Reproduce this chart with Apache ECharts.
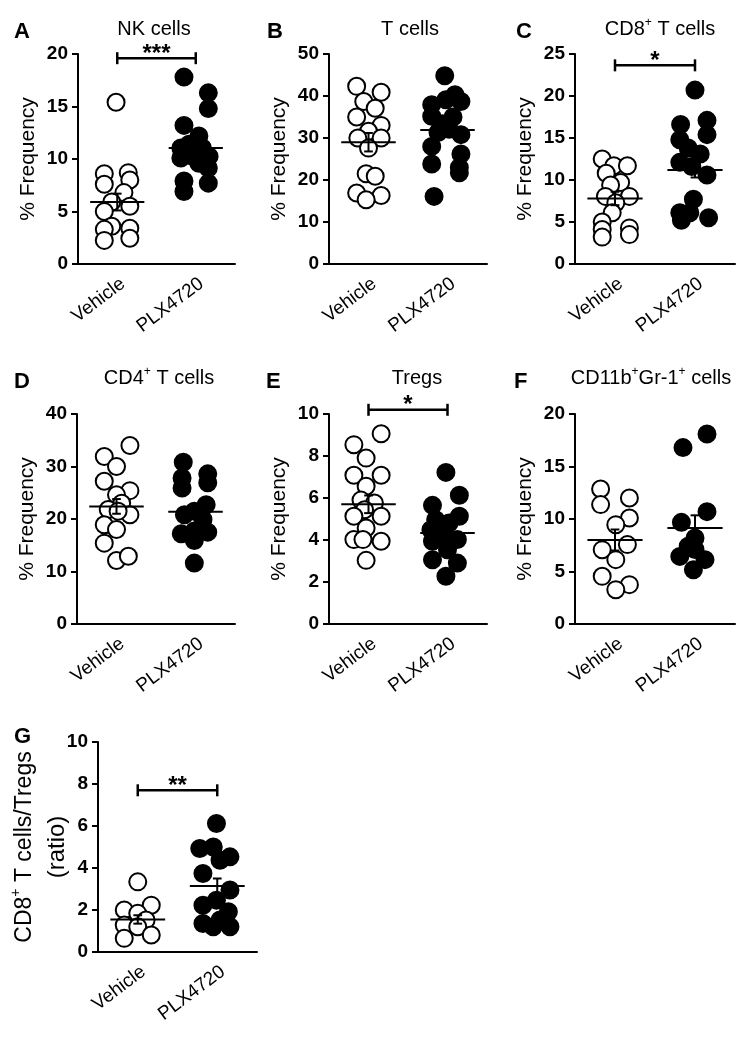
<!DOCTYPE html>
<html><head><meta charset="utf-8">
<script src="https://cdn.jsdelivr.net/npm/echarts@6/dist/echarts.min.js"></script>
<style>html,body{margin:0;padding:0;background:#fff}#c{width:754px;height:1038px}</style>
</head><body><div id="c"></div>
<script>
const categories = ['Vehicle', 'PLX4720'];

// A – NK cells
const aVeh = [15.4, 8.6, 8.7, 8.0, 7.6, 6.8, 5.9, 5.5, 5.0, 3.6, 3.3, 3.4, 2.25, 2.45];
const aVehJit = [-0.03, -0.33, 0.28, 0.32, -0.33, 0.17, -0.14, 0.32, -0.33, -0.14, -0.33, 0.32, -0.33, 0.32];
const aPlx = [17.8, 16.3, 14.8, 13.2, 12.2, 11.4, 11.05, 11.05, 10.1, 10.25, 10.25, 9.15, 9.6, 7.9, 7.7, 6.9];
const aPlxJit = [-0.30, 0.32, 0.32, -0.30, 0.08, -0.17, -0.38, 0.17, -0.38, -0.08, 0.34, 0.32, 0.08, -0.30, 0.32, -0.30];
const aMean = [5.9, 11.05], aSem = [0.8, 0.55];
const aSig = ['***', 19.6];

// B – T cells
const bVeh = [42.3, 40.9, 38.7, 37.1, 35.0, 33.0, 31.6, 30.0, 30.0, 27.6, 21.5, 20.9, 16.9, 16.3, 15.3];
const bVehJit = [-0.30, 0.32, -0.12, 0.17, -0.30, 0.32, 0.0, -0.27, 0.32, 0.0, -0.06, 0.17, -0.30, 0.32, -0.06];
const bPlx = [44.8, 40.3, 39.1, 37.9, 38.7, 35.2, 35.0, 33.4, 32.1, 31.3, 30.8, 28.0, 26.2, 23.8, 23.0, 21.7, 16.1];
const bPlxJit = [-0.07, 0.19, -0.04, -0.40, 0.34, -0.40, 0.14, -0.13, 0.04, -0.24, 0.34, -0.40, 0.34, -0.40, 0.30, 0.30, -0.34];
const bMean = [29.0, 31.9], bSem = [2.2, 1.5];

// C – CD8+ T cells
const cVeh = [12.5, 11.7, 11.7, 10.8, 9.7, 9.4, 8.05, 8.05, 7.3, 6.1, 5.0, 4.1, 4.3, 3.5, 3.2];
const cVehJit = [-0.32, -0.03, 0.31, -0.22, 0.14, -0.11, -0.24, 0.36, 0.02, -0.07, -0.32, -0.32, 0.36, 0.36, -0.32];
const cPlx = [20.7, 16.6, 17.1, 15.4, 14.8, 13.8, 13.1, 12.1, 11.6, 10.6, 7.7, 6.1, 6.1, 5.5, 5.2];
const cPlxJit = [0, -0.36, 0.30, 0.30, -0.38, -0.17, 0.13, -0.38, -0.08, 0.30, -0.04, -0.38, -0.13, 0.34, -0.34];
const cMean = [7.8, 11.2], cSem = [0.8, 0.9];
const cSig = ['*', 23.65];

// D – CD4+ T cells
const dVeh = [34.0, 31.9, 30.0, 27.2, 25.4, 24.6, 23.0, 21.8, 20.8, 21.5, 18.9, 18.0, 15.4, 12.1, 12.9];
const dVehJit = [0.34, -0.31, 0, -0.31, 0.34, 0, 0.13, -0.21, 0.34, 0.04, -0.31, 0, -0.31, 0, 0.30];
const dPlx = [30.8, 27.8, 28.6, 25.9, 26.9, 22.7, 21.5, 20.8, 19.9, 17.2, 17.7, 17.5, 15.9, 11.6];
const dPlxJit = [-0.31, -0.34, 0.31, -0.34, 0.31, 0.27, -0.03, -0.28, 0.19, -0.36, -0.03, 0.31, -0.03, -0.03];
const dMean = [22.4, 21.4], dSem = [1.4, 1.3];

// E – Tregs
const eVeh = [9.06, 8.54, 7.9, 7.08, 7.08, 6.56, 5.9, 5.76, 5.44, 5.13, 5.13, 4.57, 4.02, 4.02, 3.94, 3.03];
const eVehJit = [0.32, -0.37, -0.06, -0.37, 0.32, -0.06, -0.19, 0.15, -0.10, -0.37, 0.32, -0.06, -0.37, -0.14, 0.32, -0.06];
const ePlx = [7.22, 6.13, 5.65, 5.13, 4.97, 4.81, 4.49, 4.25, 4.02, 3.94, 3.54, 3.06, 2.9, 2.27];
const ePlxJit = [-0.04, 0.30, -0.38, 0.30, -0.30, 0.04, -0.42, -0.08, 0.25, -0.38, 0, -0.38, 0.25, -0.04];
const eMean = [5.7, 4.33], eSem = [0.42, 0.3];
const eSig = ['*', 10.2];

// F – CD11b+Gr-1+ cells
const fVeh = [12.86, 11.37, 12.0, 10.1, 9.46, 7.56, 7.08, 6.13, 4.54, 3.75, 3.27];
const fVehJit = [-0.36, -0.36, 0.36, 0.36, 0.02, 0.31, -0.32, 0.02, -0.32, 0.36, 0.02];
const fPlx = [18.1, 16.8, 10.7, 9.68, 8.19, 7.4, 7.1, 6.44, 6.13, 5.17];
const fPlxJit = [0.30, -0.30, 0.30, -0.34, 0, -0.17, 0, -0.38, 0.25, -0.04];
const fMean = [8.0, 9.15], fSem = [1.0, 1.2];

// G – CD8+ T cells / Tregs ratio
const gVeh = [3.34, 2.23, 2.0, 1.84, 1.52, 1.28, 1.2, 0.81, 0.65];
const gVehJit = [0, 0.34, -0.34, 0, 0.21, -0.34, 0, 0.34, -0.34];
const gPlx = [6.12, 4.93, 5.0, 4.53, 4.37, 3.74, 2.95, 2.47, 2.23, 1.92, 1.36, 1.2, 1.2, 1.52];
const gPlxJit = [-0.02, -0.44, -0.10, 0.32, 0.07, -0.36, 0.32, -0.02, -0.36, 0.28, -0.36, -0.10, 0.32, 0.07];
const gMean = [1.55, 3.14], gSem = [0.2, 0.36];
const gSig = ['**', 7.7];

// y-axis ticks: [max, interval]
const aTicks = [20, 5], bTicks = [50, 10], cTicks = [25, 5], dTicks = [40, 10], eTicks = [10, 2], fTicks = [20, 5], gTicks = [10, 2];

const FONT = 'Liberation Sans, Arial, Helvetica, sans-serif';
const sup = {
  t: {fontSize: 20, fontFamily: FONT, color: '#000', lineHeight: 24},
  s: {fontSize: 12, fontFamily: FONT, color: '#000', lineHeight: 12, verticalAlign: 'top'}
};
const supName = {
  t: {fontSize: 21, fontFamily: FONT, color: '#000', lineHeight: 26},
  s: {fontSize: 13, fontFamily: FONT, color: '#000', lineHeight: 13, verticalAlign: 'top'}
};
const supNameG = {
  t: {fontSize: 23, fontFamily: FONT, color: '#000', lineHeight: 32},
  r: {fontSize: 24, fontFamily: FONT, color: '#000', lineHeight: 32},
  s: {fontSize: 14, fontFamily: FONT, color: '#000', lineHeight: 14, verticalAlign: 'top'}
};

const panels = [
  {letter: 'A', title: '{t|NK cells}', veh: aVeh, vj: aVehJit, plx: aPlx, pj: aPlxJit, mean: aMean, sem: aSem, ticks: aTicks, sig: aSig,
   grid: {left: 78, top: 54, width: 157}, lx: 14, ly: 21, tx: 154, ty: 29, yName: '{t|% Frequency}', nameGap: 37, rich: supName},
  {letter: 'B', title: '{t|T cells}', veh: bVeh, vj: bVehJit, plx: bPlx, pj: bPlxJit, mean: bMean, sem: bSem, ticks: bTicks,
   grid: {left: 329, top: 54, width: 158}, lx: 267, ly: 21, tx: 410, ty: 29, yName: '{t|% Frequency}', nameGap: 37, rich: supName},
  {letter: 'C', title: '{t|CD8}{s|+}{t| T cells}', veh: cVeh, vj: cVehJit, plx: cPlx, pj: cPlxJit, mean: cMean, sem: cSem, ticks: cTicks, sig: cSig,
   grid: {left: 575, top: 54, width: 160}, lx: 516, ly: 21, tx: 660, ty: 29, yName: '{t|% Frequency}', nameGap: 37, rich: supName},
  {letter: 'D', title: '{t|CD4}{s|+}{t| T cells}', veh: dVeh, vj: dVehJit, plx: dPlx, pj: dPlxJit, mean: dMean, sem: dSem, ticks: dTicks,
   grid: {left: 77, top: 414, width: 158}, lx: 14, ly: 371, tx: 159, ty: 378, yName: '{t|% Frequency}', nameGap: 37, rich: supName},
  {letter: 'E', title: '{t|Tregs}', veh: eVeh, vj: eVehJit, plx: ePlx, pj: ePlxJit, mean: eMean, sem: eSem, ticks: eTicks, sig: eSig,
   grid: {left: 329, top: 414, width: 158}, lx: 266, ly: 371, tx: 417, ty: 378, yName: '{t|% Frequency}', nameGap: 37, rich: supName},
  {letter: 'F', title: '{t|CD11b}{s|+}{t|Gr-1}{s|+}{t| cells}', veh: fVeh, vj: fVehJit, plx: fPlx, pj: fPlxJit, mean: fMean, sem: fSem, ticks: fTicks,
   grid: {left: 575, top: 414, width: 160}, lx: 514, ly: 371, tx: 651, ty: 378, yName: '{t|% Frequency}', nameGap: 37, rich: supName},
  {letter: 'G', title: '', veh: gVeh, vj: gVehJit, plx: gPlx, pj: gPlxJit, mean: gMean, sem: gSem, ticks: gTicks, sig: gSig,
   grid: {left: 98, top: 742, width: 159}, lx: 14, ly: 726, tx: 0, ty: 0,
   yName: '{t|CD8}{s|+}{t| T cells/Tregs}\n{r|(ratio)}', nameGap: 25, rich: supNameG}
];

const axisLineStyle = {color: '#000', width: 2};
const grids = [], xAxes = [], yAxes = [], series = [], graphics = [];

function statsRender(params, api) {
  const x = api.value(0), m = api.value(1), s = api.value(2);
  const hw = 0.69, cw = 0.11;
  const st = {stroke: '#000', lineWidth: 2};
  const L = (a, b) => ({type: 'line', shape: {x1: a[0], y1: a[1], x2: b[0], y2: b[1]}, style: st});
  const p = (a, b) => api.coord([a, b]);
  return {type: 'group', children: [
    L(p(x - hw, m), p(x + hw, m)),
    L(p(x, m - s), p(x, m + s)),
    L(p(x - cw, m + s), p(x + cw, m + s)),
    L(p(x - cw, m - s), p(x + cw, m - s))
  ]};
}

function makeSigRender(label) {
  return function (params, api) {
    const y = api.value(2);
    const a = api.coord([api.value(0), y]);
    const b = api.coord([api.value(1), y]);
    const st = {stroke: '#000', lineWidth: 2.5};
    const L = (x1, y1, x2, y2) => ({type: 'line', shape: {x1, y1, x2, y2}, style: st});
    return {type: 'group', children: [
      L(a[0], a[1], b[0], b[1]),
      L(a[0], a[1] - 6, a[0], a[1] + 6),
      L(b[0], b[1] - 6, b[0], b[1] + 6),
      {type: 'text', style: {text: label, x: (a[0] + b[0]) / 2, y: a[1] - 4, align: 'center', verticalAlign: 'middle',
        font: 'bold 24px ' + FONT, fill: '#000'}}
    ]};
  };
}

panels.forEach((p, i) => {
  grids.push({left: p.grid.left, top: p.grid.top, width: p.grid.width, height: 210, containLabel: false});
  xAxes.push({gridIndex: i, type: 'category', data: categories, boundaryGap: true,
    axisLine: {lineStyle: axisLineStyle}, axisTick: {alignWithLabel: true, length: 6, lineStyle: axisLineStyle},
    axisLabel: {rotate: 37, fontSize: 19, fontFamily: FONT, color: '#000', margin: 10, interval: 0, verticalAlign: 'top'},
    splitLine: {show: false}});
  xAxes.push({gridIndex: i, type: 'value', min: 0, max: 4, show: false});
  yAxes.push({gridIndex: i, type: 'value', min: 0, max: p.ticks[0], interval: p.ticks[1],
    axisLine: {show: true, lineStyle: axisLineStyle},
    axisTick: {show: true, length: 6, lineStyle: axisLineStyle},
    axisLabel: {fontSize: 19, fontWeight: 'bold', fontFamily: FONT, color: '#000', margin: 10},
    splitLine: {show: false},
    name: p.yName, nameLocation: 'middle', nameGap: p.nameGap, nameMoveOverlap: false,
    nameTextStyle: {fontFamily: FONT, color: '#000', rich: p.rich}});
  const xi = i * 2 + 1;
  series.push({type: 'scatter', xAxisIndex: xi, yAxisIndex: i, symbol: 'circle', symbolSize: 17,
    itemStyle: {color: '#fff', borderColor: '#000', borderWidth: 2, opacity: 1},
    data: p.veh.map((v, k) => [1 + p.vj[k], v]), z: 2, silent: true});
  series.push({type: 'scatter', xAxisIndex: xi, yAxisIndex: i, symbol: 'circle', symbolSize: 17,
    itemStyle: {color: '#000', borderColor: '#000', borderWidth: 2, opacity: 1},
    data: p.plx.map((v, k) => [3 + p.pj[k], v]), z: 2, silent: true});
  series.push({type: 'custom', xAxisIndex: xi, yAxisIndex: i, renderItem: statsRender, z: 5, silent: true,
    data: [[1, p.mean[0], p.sem[0]], [3, p.mean[1], p.sem[1]]]});
  if (p.sig) {
    series.push({type: 'custom', xAxisIndex: xi, yAxisIndex: i, renderItem: makeSigRender(p.sig[0]), z: 5, silent: true, clip: false,
      data: [[1, 3, p.sig[1]]]});
  }
  graphics.push({type: 'text', left: p.lx, top: p.ly, style: {text: p.letter, font: 'bold 22px ' + FONT, fill: '#000'}});
  if (p.title) {
    graphics.push({type: 'text', x: p.tx, y: p.ty, style: {text: p.title, rich: sup, align: 'center', verticalAlign: 'middle'}});
  }
});

const chart = echarts.init(document.getElementById('c'), null, {renderer: 'canvas'});
chart.setOption({
  animation: false,
  backgroundColor: '#fff',
  grid: grids, xAxis: xAxes, yAxis: yAxes, series: series, graphic: graphics
});
</script></body></html>
